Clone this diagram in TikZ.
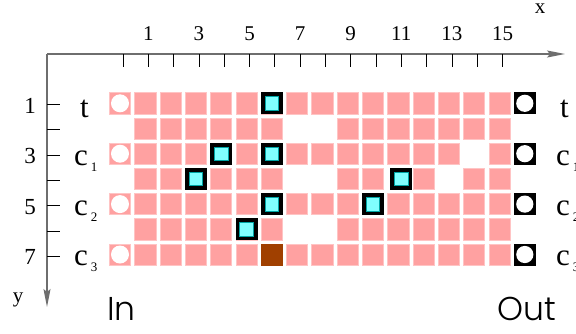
\documentclass[tikz,border=0pt]{standalone}
\usepackage{fontspec}
\setmainfont{Liberation Serif}
\newfontfamily\gothic{Poppins Light}
\usetikzlibrary{arrows.meta}
\definecolor{cellpink}{RGB}{255,161,161}
\definecolor{celledge}{RGB}{255,196,196}
\definecolor{cyanin}{RGB}{128,255,255}
\definecolor{cyanedge}{RGB}{0,165,165}
\definecolor{cellbrown}{RGB}{160,64,0}
\definecolor{axisgray}{RGB}{110,110,110}
\begin{document}
\begin{tikzpicture}[x=1pt,y=-1pt,
  cell/.style={minimum size=21.2pt, inner sep=0pt, outer sep=0pt, fill=cellpink, draw=celledge, line width=0.8pt},
  special/.style={minimum size=22pt, inner sep=0pt, outer sep=0pt, fill=black,
    path picture={\fill[cyanin, draw=cyanedge, line width=0.8pt] ([shift={(-6.8,-6.8)}]path picture bounding box.center) rectangle ([shift={(6.8,6.8)}]path picture bounding box.center);}},
  brownc/.style={cell, fill=cellbrown, draw=cellbrown},
  incell/.style={cell, path picture={\fill[white] (path picture bounding box.center) circle (9);}},
  outcell/.style={minimum size=22pt, inner sep=0pt, outer sep=0pt, fill=black,
    path picture={\fill[white] (path picture bounding box.center) circle (8.6);}},
  axis/.style={draw=axisgray, line width=1.2pt},
  tickmark/.style={draw=black, line width=0.7pt},
  ticklab/.style={font=\fontsize{21}{24}\selectfont, anchor=base, inner sep=0pt},
  ylab/.style={font=\fontsize{23}{26}\selectfont, anchor=base, inner sep=0pt},
  rowlab/.style={font=\fontsize{31}{34}\selectfont, anchor=base west, inner sep=0pt},
  iolab/.style={font=\gothic\fontsize{33}{36}\selectfont, anchor=base west, inner sep=0pt}
]
\useasboundingbox (0,0) rectangle (576,333);
\clip (0,0) rectangle (576,333);
\newcommand{\sub}[1]{\hspace{3pt}\raisebox{-6pt}{\fontsize{13}{14}\selectfont #1}}
% axes
\coordinate (origin) at (47,54);
\coordinate (xend) at (565,54);
\coordinate (yend) at (47,307);
\draw[axis, -{Stealth[length=18pt, width=7pt, inset=3pt]}] (origin) -- (xend);
\draw[axis, -{Stealth[length=18pt, width=7pt, inset=3pt]}] (origin) -- (yend);
% x ticks
\foreach \k in {0,...,15} {
  \coordinate (xt\k) at ({123+25.3*\k},54);
  \coordinate (xb\k) at ({123+25.3*\k},67);
  \draw[tickmark] (xt\k) -- (xb\k);
}
\foreach \k in {1,3,...,15} {
  \node[ticklab] (xl\k) at ({123+25.3*\k},40) {\k};
}
% y ticks
\foreach \r in {1,...,7} {
  \coordinate (yl\r) at (47,{104.5+25.3*(\r-1)});
  \coordinate (yr\r) at (60,{104.5+25.3*(\r-1)});
  \draw[tickmark] (yl\r) -- (yr\r);
}
\foreach \r in {1,3,5,7} {
  \node[ylab] (ylab\r) at (30,{113+25.3*(\r-1)}) {\r};
}
\node[ticklab] (xname) at (540,13) {x};
\node[ticklab] (yname) at (18,302) {y};
% grid cells
\foreach \c in {1,...,15} \node[cell] (c-1-\c) at ({120+25.3*\c},103.3) {};
\foreach \c in {1,...,6,9,10,...,15} \node[cell] (c-2-\c) at ({120+25.3*\c},128.5) {};
\foreach \c in {1,...,13,15} \node[cell] (c-3-\c) at ({120+25.3*\c},153.7) {};
\foreach \c in {1,...,6,9,10,12,14,15} \node[cell] (c-4-\c) at ({120+25.3*\c},178.9) {};
\foreach \c in {1,...,15} \node[cell] (c-5-\c) at ({120+25.3*\c},204.1) {};
\foreach \c in {1,...,6,9,10,...,15} \node[cell] (c-6-\c) at ({120+25.3*\c},229.3) {};
\foreach \c in {1,...,15} \node[cell] (c-7-\c) at ({120+25.3*\c},254.5) {};
% in / out columns
\foreach \r/\yy in {1/103.3,3/153.7,5/204.1,7/254.5} {
  \node[incell] (in\r) at (120,\yy) {};
  \node[outcell] (out\r) at (524.8,\yy) {};
}
% special cells
\node[special] (s-1-6) at ({120+25.3*6},103.3) {};
\node[special] (s-3-4) at ({120+25.3*4},153.7) {};
\node[special] (s-3-6) at ({120+25.3*6},153.7) {};
\node[special] (s-4-3) at ({120+25.3*3},178.9) {};
\node[special] (s-4-11) at ({123+25.3*11},178.9) {};
\node[special] (s-5-6) at ({120+25.3*6},204.1) {};
\node[special] (s-5-10) at ({120+25.3*10},204.1) {};
\node[special] (s-6-5) at ({120+25.3*5},229.3) {};
\node[brownc] (b-7-6) at ({120+25.3*6},254.5) {};
% row labels
\node[rowlab] (lt) at (80,117) {t};
\node[rowlab] (lc1) at (74,165) {c\sub{1}};
\node[rowlab] (lc2) at (74,215.4) {c\sub{2}};
\node[rowlab] (lc3) at (74,265.8) {c\sub{3}};
\node[rowlab] (rt) at (560,117) {t};
\node[rowlab] (rc1) at (556,165) {c\sub{1}};
\node[rowlab] (rc2) at (556,215.4) {c\sub{2}};
\node[rowlab] (rc3) at (556,265.8) {c\sub{3}};
% In / Out
\node[iolab] (inlab) at (107,320) {In};
\node[iolab] (outlab) at (497,320) {Out};
\end{tikzpicture}
\end{document}
